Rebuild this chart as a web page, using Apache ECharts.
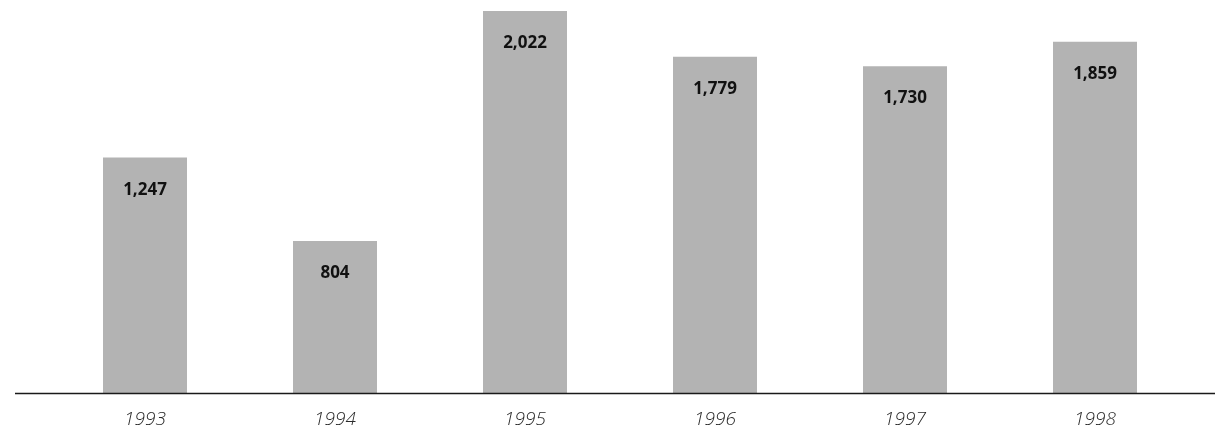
<!DOCTYPE html>
<html>
<head>
<meta charset="utf-8">
<script src="https://cdn.jsdelivr.net/npm/echarts@6/dist/echarts.min.js"></script>
<style>
  html, body { margin: 0; padding: 0; background: #ffffff; }
  #chart { width: 1215px; height: 432px; }
</style>
</head>
<body>
<div id="chart"></div>
<script>
// Yearly totals, 1993–1998
const years = ['1993', '1994', '1995', '1996', '1997', '1998'];
const totals = [1247, 804, 2022, 1779, 1730, 1859];

const chart = echarts.init(document.getElementById('chart'), null, { renderer: 'canvas' });

chart.setOption({
  animation: false,
  backgroundColor: '#ffffff',
  grid: { left: 50, right: 25, top: 0, bottom: 39 },
  xAxis: {
    type: 'category',
    data: years,
    axisLine: { show: false },
    axisTick: { show: false },
    axisLabel: {
      margin: 17,
      fontFamily: 'Open Sans',
      fontStyle: 'italic',
      fontWeight: 300,
      fontSize: 19,
      color: '#2a2a2a'
    }
  },
  yAxis: {
    type: 'value',
    min: 0,
    max: 2080,
    show: false,
    splitLine: { show: false }
  },
  series: [{
    type: 'bar',
    data: totals,
    barWidth: 84,
    itemStyle: { color: '#b3b3b3' },
    label: {
      show: true,
      position: 'insideTop',
      distance: 24,
      fontFamily: 'Open Sans',
      fontWeight: 700,
      fontSize: 17,
      color: '#111111',
      formatter: p => p.value.toLocaleString('en-US')
    }
  }]
});

// Baseline running across the full width at the zero value
const baseY = Math.round(chart.convertToPixel({ yAxisIndex: 0 }, 0)) + 0.5;
chart.setOption({
  graphic: [{
    type: 'line',
    shape: { x1: 15, y1: baseY, x2: 1215, y2: baseY },
    style: { stroke: '#1a1a1a', lineWidth: 1.5 },
    z: 10
  }]
});
</script>
</body>
</html>
